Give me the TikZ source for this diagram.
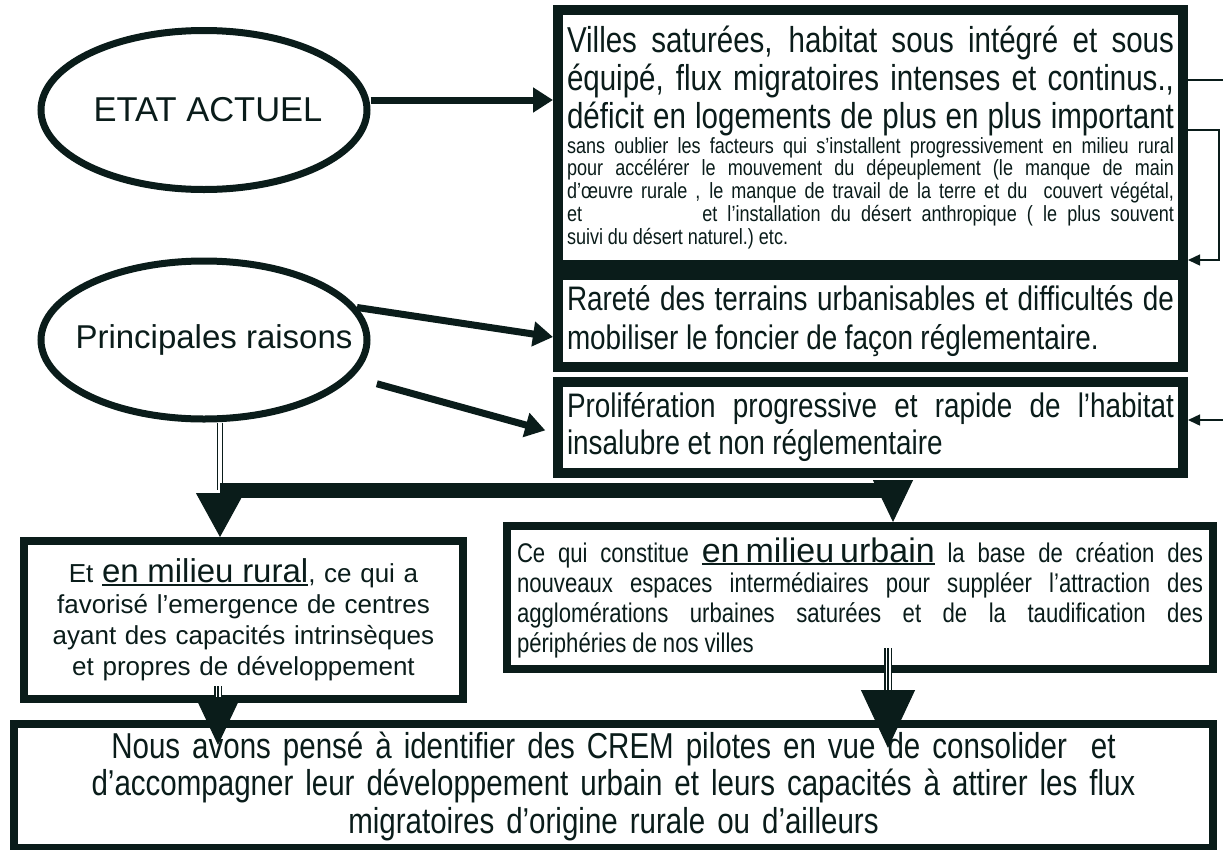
\documentclass[tikz,border=0pt]{standalone}
\usepackage{fontspec}
\setmainfont{Liberation Sans}
\newfontfamily\etroite[FakeStretch=0.82]{Liberation Sans}
\usetikzlibrary{shapes.geometric,arrows.meta}
\definecolor{encre}{RGB}{10,28,26}
\setlength{\parindent}{0pt}
\newcommand{\etroit}[2]{\etroite\fontsize{#1}{#2}\selectfont%
  \spaceskip=.22\dimexpr#1pt\relax plus .15\dimexpr#1pt\relax minus .05\dimexpr#1pt\relax\relax}
\newcommand{\ligne}[1]{{\advance\spaceskip by 0pt plus 1fil\relax%
  \makebox[\hsize][s]{#1}}\par}
\newcommand{\souligne}[1]{\vtop{\hbox{#1}\kern1pt\hrule height 2pt}}
\tikzset{
  bulle/.style={draw, ellipse, line width=7pt, fill=white,
    font=\fontsize{33}{38}\selectfont},
  boite/.style={draw, rectangle, line width=#1, fill=white, inner sep=5pt},
  fleche/.style={line width=7pt, -{Triangle[length=20pt,width=24pt]}},
  mince/.style={line width=1.5pt, -{Triangle[length=12pt,width=11pt]}},
  trait fin/.style={line width=1.5pt},
  double trait/.style={double, line width=1.2pt, double distance=4.5pt},
  barre/.style={line width=15pt},
  triple/.style={line width=1.2pt, preaction={draw, line width=7.5pt},
    preaction={draw, white, line width=5pt}},
  grosse fleche/.style 2 args={line width=1pt, -{Triangle[length=#1,width=#2]}}
}
\begin{document}
\begin{tikzpicture}[x=1pt, y=-1pt, color=encre]
  \useasboundingbox
    (0,0)
    rectangle
    (1223,849);
  \clip
    (0,0)
    rectangle
    (1223,849);
  % les deux bulles
  \node[bulle, minimum width=326pt, minimum height=159pt,
    font=\fontsize{34.5}{38}\selectfont]
    (etat) at (204,110) {\makebox[0pt]{\hspace{8pt}ETAT ACTUEL}};
  \node[bulle, minimum width=326pt, minimum height=158pt]
    (raisons) at (204,340) {\makebox[0pt]{\hspace{20pt}Principales raisons}};
  % colonne de droite
  \node[boite=10pt, minimum width=625pt, minimum height=255pt, text width=607pt]
    (villes) at (870.5,137.5)
    {{\etroit{36}{38}%
      \ligne{Villes saturées, habitat sous intégré et sous}%
      \ligne{équipé, flux migratoires intenses et continus.,}%
      \ligne{déficit en logements de plus en plus important}}%
     {\etroit{22}{22.8}%
      \ligne{sans oublier les facteurs qui s’installent progressivement en milieu rural}%
      \ligne{pour accélérer le mouvement du dépeuplement (le manque de main}%
      \ligne{d’œuvre rurale , le manque de travail de la terre et du\ \ couvert végétal,}%
      \ligne{et\hspace{110pt} et l’installation du désert anthropique ( le plus souvent}%
      suivi du désert naturel.) etc.\par}};
  \node[boite=10pt, minimum width=625pt, minimum height=92pt, text width=607pt]
    (rarete) at (870.5,321)
    {{\etroit{34}{39}%
      \ligne{Rareté des terrains urbanisables et difficultés de}%
      mobiliser le foncier de façon réglementaire.\par}};
  \node[boite=10pt, minimum width=625pt, minimum height=91pt, text width=607pt]
    (prolif) at (870.5,427.5)
    {{\etroit{34}{37}%
      \ligne{Prolifération progressive et rapide de l’habitat}%
      insalubre et non réglementaire\par}};
  % milieu rural et milieu urbain
  \node[boite=8pt, minimum width=439pt, minimum height=158pt, text width=425pt,
    align=center, font=\fontsize{26}{31}\selectfont]
    (rural) at (243.5,620)
    {Et \souligne{\fontsize{33}{31}\selectfont en milieu rural}, ce qui a\\
     favorisé l’emergence de centres\\
     ayant des capacités intrinsèques\\
     et propres de développement};
  \node[boite=8pt, minimum width=706pt, minimum height=143pt, text width=686pt]
    (urbain) at (860,597.5)
    {{\etroit{27}{30}%
      \ligne{Ce qui constitue {\rmfamily\fontsize{34}{30}\selectfont\souligne{en milieu urbain}} la base de création des}%
      \ligne{nouveaux espaces intermédiaires pour suppléer l’attraction des}%
      \ligne{agglomérations urbaines saturées et de la taudification des}%
      périphéries de nos villes\par}};
  % conclusion
  \node[boite=8pt, minimum width=1199pt, minimum height=124pt, text width=1150pt,
    align=center, font=\etroit{36}{37.5}]
    (crem) at (613.5,786)
    {Nous avons pensé à identifier des CREM pilotes en vue de consolider\ \ et\\
     d’accompagner leur développement urbain et leurs capacités à attirer les flux\\
     migratoires d’origine rurale ou d’ailleurs};
  % points de passage
  \coordinate (etat sortie) at ([yshift=10pt]etat.east);
  \coordinate (bord haut) at (1230,80);
  \coordinate (bord bas) at (1230,420);
  \coordinate (coude) at (220,490);
  \coordinate (pointe) at (893,480);
  \coordinate (rural bas) at (218,686);
  \coordinate (urbain bas) at (888,648);
  % fleches
  \draw[fleche]
    (etat sortie)
    --
    (etat sortie -| villes.west);
  \draw[fleche]
    (raisons.12)
    --
    ([yshift=-16pt]rarete.west);
  \draw[fleche, shorten <=25pt, shorten >=8pt]
    (raisons.-14)
    --
    ([yshift=-5pt]prolif.west);
  \draw[trait fin]
    (bord haut -| villes.east)
    --
    (bord haut);
  \draw[mince]
    ([yshift=7.5pt]villes.east)
    -- ++(31,0)
    |- ([yshift=-122.5pt]villes.east);
  \draw[mince]
    (bord bas)
    --
    (bord bas -| prolif.east);
  \draw[double trait]
    (coude |- raisons.south)
    --
    (coude);
  \draw[barre]
    (coude)
    --
    ([xshift=8pt]coude -| pointe);
  \draw[grosse fleche={44pt}{48pt}]
    (coude)
    --
    (coude |- rural.north);
  \draw[grosse fleche={42pt}{40pt}]
    (pointe)
    --
    (pointe |- urbain.north);
  \draw[triple]
    (rural bas)
    --
    ([yshift=2pt]rural bas |- rural.south);
  \draw[grosse fleche={48pt}{45pt}]
    ([yshift=2pt]rural bas |- rural.south)
    --
    ([yshift=-25pt]rural bas |- crem.north);
  \draw[triple]
    (urbain bas)
    --
    ([yshift=-17pt]urbain bas |- urbain.south);
  \draw[grosse fleche={58pt}{54pt}]
    ([yshift=-17pt]urbain bas |- urbain.south)
    --
    ([yshift=-28pt]urbain bas |- crem.north);
\end{tikzpicture}
\end{document}
